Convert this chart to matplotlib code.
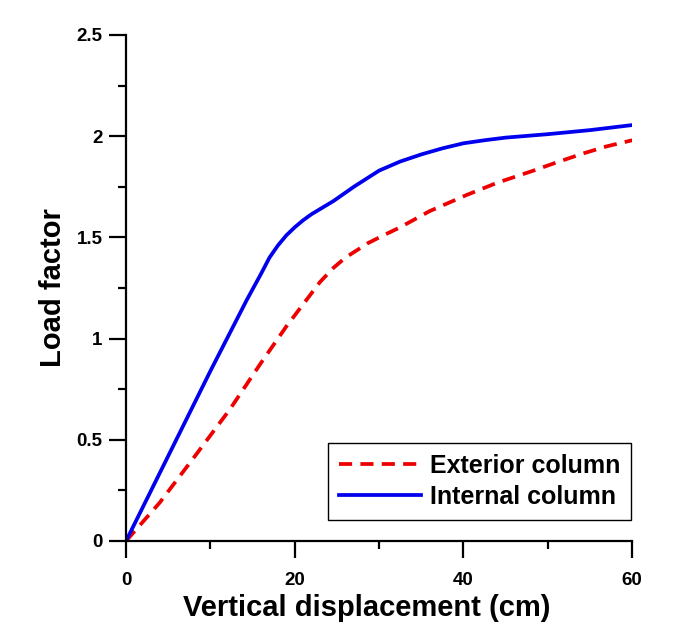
import numpy as np
import matplotlib
matplotlib.use("Agg")
import matplotlib.pyplot as plt
from matplotlib.ticker import MultipleLocator, FuncFormatter

plt.rcParams['font.family'] = ['Liberation Sans', 'DejaVu Sans']
plt.rcParams['font.weight'] = 'bold'

# internal column (solid blue)
x_int = [0, 5, 10, 14.3, 16, 17, 18, 19, 20, 21, 22, 24.6, 27, 30, 32.5, 35, 37.5, 40, 42.5, 45, 50, 55, 60]
y_int = [0, 0.42, 0.84, 1.19, 1.32, 1.40, 1.46, 1.51, 1.55, 1.585, 1.615, 1.68, 1.75, 1.83, 1.875, 1.91, 1.94, 1.965, 1.98, 1.993, 2.01, 2.03, 2.055]

# exterior column (dashed red)
x_ext = [0, 4, 8, 12.3, 16, 19, 21, 23, 24.6, 26, 27.5, 28.6, 30.5, 32.5, 36, 40.4, 44, 48.3, 51, 54.2, 57, 60]
y_ext = [0, 0.19, 0.41, 0.65, 0.88, 1.06, 1.17, 1.28, 1.35, 1.40, 1.44, 1.47, 1.51, 1.55, 1.63, 1.71, 1.77, 1.83, 1.87, 1.915, 1.95, 1.98]

fig = plt.figure(figsize=(6.74, 6.34), dpi=100)
ax = fig.add_axes([0.187, 0.1467, 0.751, 0.7981])

ax.plot(x_ext, y_ext, color='#ee0000', lw=2.7, dashes=(3.5, 2.2), label='Exterior column')
ax.plot(x_int, y_int, color='#0000ee', lw=2.7, label='Internal column')

ax.set_xlim(0, 60)
ax.set_ylim(0, 2.5)
ax.xaxis.set_major_locator(MultipleLocator(20))
ax.xaxis.set_minor_locator(MultipleLocator(10))
ax.yaxis.set_major_locator(MultipleLocator(0.5))
ax.yaxis.set_minor_locator(MultipleLocator(0.25))
ax.yaxis.set_major_formatter(FuncFormatter(lambda v, p: f'{v:g}'))

for s in ['top', 'right']:
    ax.spines[s].set_visible(False)
for s in ['left', 'bottom']:
    ax.spines[s].set_linewidth(1.6)

ax.tick_params(which='major', direction='out', length=12, width=1.6, labelsize=13.5)
ax.tick_params(which='minor', direction='out', length=6, width=1.6)
ax.tick_params(axis='x', which='major', pad=10)
ax.tick_params(axis='y', which='major', pad=5)

ax.set_xlabel('Vertical displacement (cm)', fontsize=21, fontweight='bold')
ax.set_ylabel('Load factor', fontsize=21, fontweight='bold', labelpad=7)
ax.xaxis.set_label_coords(0.475, -0.105)

leg = ax.legend(loc='lower right', bbox_to_anchor=(0.998, 0.0415), borderaxespad=0,
                fancybox=False, framealpha=1, edgecolor='black',
                prop={'size': 18, 'weight': 'bold'}, handlelength=3.3, handletextpad=0.35,
                labelspacing=0.3, borderpad=0.43)
leg.get_frame().set_linewidth(1.0)

fig.savefig('out.png', dpi=100)
